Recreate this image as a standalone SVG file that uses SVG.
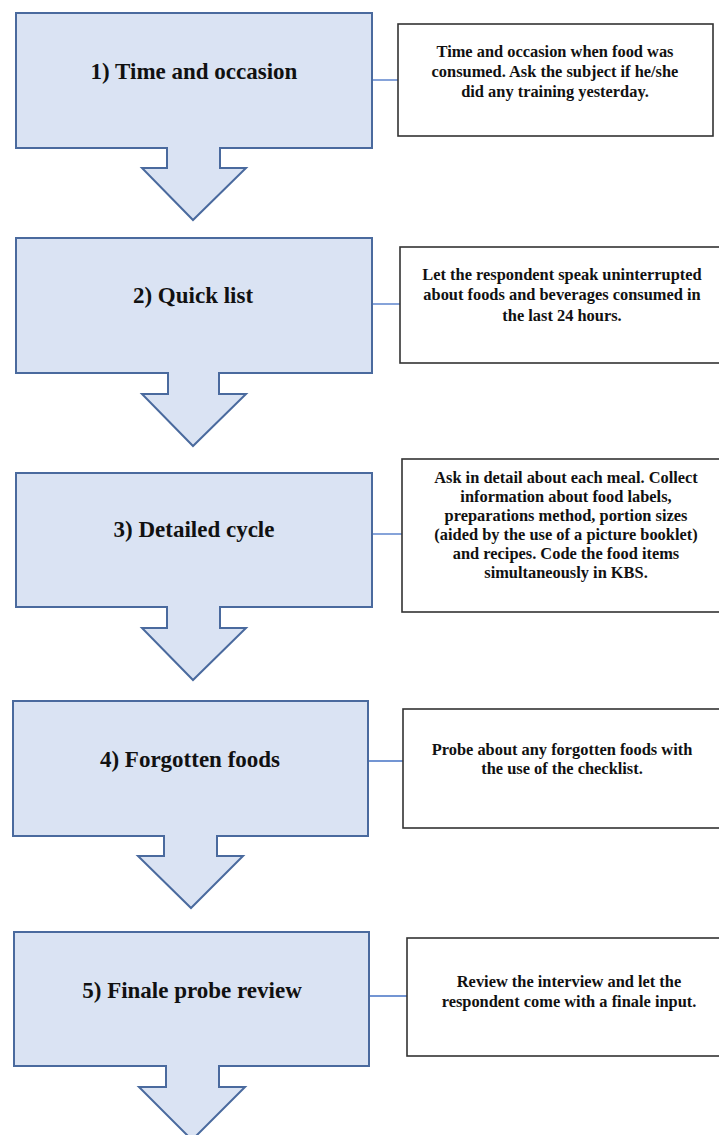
<svg xmlns="http://www.w3.org/2000/svg" width="719" height="1135" viewBox="0 0 719 1135">
<style>
.step{fill:#dae3f3;stroke:#4a6a9e;stroke-width:2}
.note{fill:#ffffff;stroke:#333333;stroke-width:1.6}
.lbl{font-family:'Liberation Serif',serif;font-weight:bold;font-size:23px;fill:#111;text-anchor:middle}
.txt{font-family:'Liberation Serif',serif;font-weight:bold;font-size:16.4px;fill:#111;text-anchor:middle}
.conn{stroke:#4472c4;stroke-width:1.3;fill:none}
</style>
<rect width="719" height="1135" fill="#ffffff"/>
<g id="connectors">
<line class="conn" x1="372" y1="80" x2="398" y2="80"/>
<line class="conn" x1="372" y1="304" x2="400" y2="304"/>
<line class="conn" x1="372" y1="534" x2="402" y2="534"/>
<line class="conn" x1="368" y1="761" x2="403" y2="761"/>
<line class="conn" x1="369" y1="996" x2="407" y2="996"/>
</g>
<g id="step1">
<path class="step" d="M16,13 H372 V148 H220 V168 H246 L193,220 L142,168 H167 V148 H16 Z"/>
<text class="lbl" x="194" y="79">1) Time and occasion</text>
</g>
<g id="note1">
<rect class="note" x="398" y="24" width="315" height="112"/>
<text class="txt" x="555" y="57">Time and occasion when food was</text>
<text class="txt" x="555" y="77">consumed. Ask the subject if he/she</text>
<text class="txt" x="555" y="97">did any training yesterday.</text>
</g>
<g id="step2">
<path class="step" d="M16,238 H372 V373 H219 V394 H246 L193,446 L142,394 H168 V373 H16 Z"/>
<text class="lbl" x="193" y="303">2) Quick list</text>
</g>
<g id="note2">
<rect class="note" x="400" y="247" width="330" height="116"/>
<text class="txt" x="562" y="280">Let the respondent speak uninterrupted</text>
<text class="txt" x="562" y="300">about foods and beverages consumed in</text>
<text class="txt" x="562" y="321">the last 24 hours.</text>
</g>
<g id="step3">
<path class="step" d="M16,473 H372 V607 H220 V628 H246 L193,680 L142,628 H167 V607 H16 Z"/>
<text class="lbl" x="194" y="537">3) Detailed cycle</text>
</g>
<g id="note3">
<rect class="note" x="402" y="459" width="330" height="153"/>
<text class="txt" x="566" y="483">Ask in detail about each meal. Collect</text>
<text class="txt" x="566" y="502">information about food labels,</text>
<text class="txt" x="566" y="521">preparations method, portion sizes</text>
<text class="txt" x="566" y="540">(aided by the use of a picture booklet)</text>
<text class="txt" x="566" y="559">and recipes. Code the food items</text>
<text class="txt" x="566" y="578">simultaneously in KBS.</text>
</g>
<g id="step4">
<path class="step" d="M13,701 H368 V836 H217 V856 H243 L191,908 L138,856 H164 V836 H13 Z"/>
<text class="lbl" x="190" y="767">4) Forgotten foods</text>
</g>
<g id="note4">
<rect class="note" x="403" y="709" width="330" height="119"/>
<text class="txt" x="562" y="755">Probe about any forgotten foods with</text>
<text class="txt" x="562" y="774">the use of the checklist.</text>
</g>
<g id="step5">
<path class="step" d="M14,932 H369 V1066 H219 V1087 H245 L192,1140 L139,1087 H166 V1066 H14 Z"/>
<text class="lbl" x="192" y="998">5) Finale probe review</text>
</g>
<g id="note5">
<rect class="note" x="407" y="938" width="330" height="118"/>
<text class="txt" x="569" y="987">Review the interview and let the</text>
<text class="txt" x="569" y="1007">respondent come with a finale input.</text>
</g>
</svg>
